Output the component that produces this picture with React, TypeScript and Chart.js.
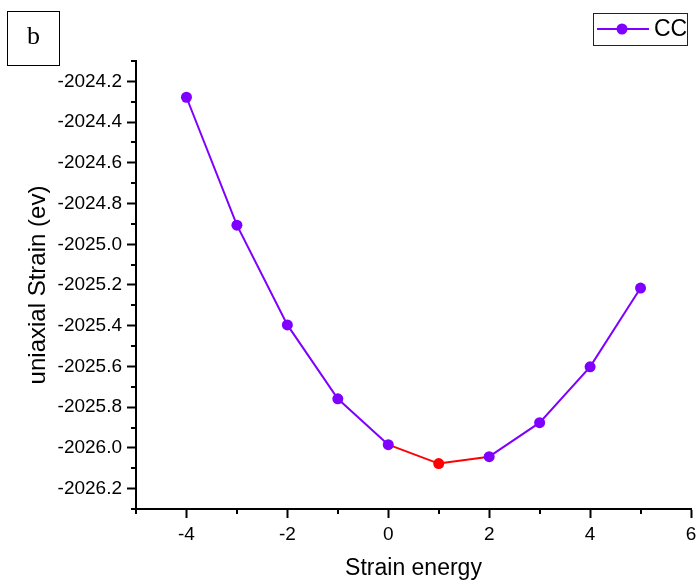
import React, { useEffect, useRef } from "react";
import { Chart, registerables } from "chart.js";

Chart.register(...registerables);

// ---- Data ----
const strainValues: number[] = [-4, -3, -2, -1, 0, 1, 2, 3, 4, 5];
const energyValues: number[] = [
  -2024.278, -2024.906, -2025.396, -2025.759, -2025.984,
  -2026.077, -2026.043, -2025.876, -2025.602, -2025.215,
];
const seriesLabel = "CC";
const highlightStart = 0; // red segment start (x)
const highlightEnd = 2; // red segment end (x)
const highlightPoint = 1; // red point (x)
const panelLabel = "b";
const xTitle = "Strain energy";
const yTitle = "uniaxial Strain (ev)";
const xMin = -5;
const xMax = 6;
const yMin = -2026.3;
const yMax = -2024.1;

const PURPLE = "#8000ff";
const RED = "#ff0000";
const FONT = "'Liberation Sans', Arial, sans-serif";

const isMajorX = (v: number) => Math.abs(Math.round(v)) % 2 === 0;
const isMajorY = (v: number) => Math.abs(Math.round(v * 10)) % 2 === 0;

const decorPlugin = {
  id: "decor",
  afterDraw(chart: any) {
    const ctx = chart.ctx;
    const area = chart.chartArea;
    const xs = chart.scales.x;
    const ys = chart.scales.y;
    ctx.save();
    // minor ticks
    ctx.strokeStyle = "#000";
    ctx.lineWidth = 2;
    xs.ticks.forEach((t: any) => {
      if (!isMajorX(t.value)) {
        const px = Math.round(xs.getPixelForValue(t.value));
        ctx.beginPath();
        ctx.moveTo(px, area.bottom);
        ctx.lineTo(px, area.bottom + 5);
        ctx.stroke();
      }
    });
    ys.ticks.forEach((t: any) => {
      if (!isMajorY(t.value)) {
        const py = Math.round(ys.getPixelForValue(t.value));
        ctx.beginPath();
        ctx.moveTo(area.left, py);
        ctx.lineTo(area.left - 5, py);
        ctx.stroke();
      }
    });

    // panel label box
    ctx.lineWidth = 1;
    ctx.strokeStyle = "#000";
    ctx.strokeRect(7.5, 11.5, 52, 54);
    ctx.fillStyle = "#000";
    ctx.font = "26px 'Liberation Serif', 'Times New Roman', serif";
    ctx.textAlign = "center";
    ctx.textBaseline = "middle";
    ctx.fillText(panelLabel, 33.5, 37);

    // legend
    ctx.strokeStyle = "#222";
    ctx.lineWidth = 1;
    ctx.strokeRect(593.5, 13.5, 94, 32);
    ctx.strokeStyle = PURPLE;
    ctx.lineWidth = 2;
    ctx.beginPath();
    ctx.moveTo(597, 29);
    ctx.lineTo(649, 29);
    ctx.stroke();
    ctx.fillStyle = PURPLE;
    ctx.beginPath();
    ctx.arc(622, 29, 5.5, 0, Math.PI * 2);
    ctx.fill();
    ctx.fillStyle = "#000";
    ctx.font = `23px ${FONT}`;
    ctx.textAlign = "left";
    ctx.textBaseline = "middle";
    ctx.fillText(seriesLabel, 654, 30);
    ctx.restore();
  },
};

export default function App() {
  const canvasRef = useRef<HTMLCanvasElement | null>(null);

  useEffect(() => {
    if (!canvasRef.current) return;
    const data = strainValues.map((x, i) => ({ x, y: energyValues[i] }));
    const chart = new Chart(canvasRef.current, {
      type: "line",
      data: {
        datasets: [
          {
            label: seriesLabel,
            data,
            borderColor: PURPLE,
            borderWidth: 2,
            pointRadius: 5.5,
            pointHoverRadius: 5.5,
            pointBorderWidth: 0,
            pointBackgroundColor: strainValues.map((x) =>
              x === highlightPoint ? RED : PURPLE
            ),
            pointBorderColor: strainValues.map((x) =>
              x === highlightPoint ? RED : PURPLE
            ),
            tension: 0,
            segment: {
              borderColor: (c: any) =>
                c.p0.parsed.x >= highlightStart && c.p1.parsed.x <= highlightEnd
                  ? RED
                  : PURPLE,
            },
          } as any,
        ],
      },
      options: {
        animation: false,
        responsive: true,
        maintainAspectRatio: false,
        layout: { padding: { top: 61, right: 0, left: 0, bottom: 0 } },
        plugins: {
          legend: { display: false },
          tooltip: { enabled: false },
        },
        scales: {
          x: {
            type: "linear",
            min: xMin,
            max: xMax,
            afterFit: (s: any) => {
              s.height = 73;
              s.paddingRight = 6;
              s.paddingLeft = 0;
            },
            ticks: {
              stepSize: 1,
              color: "#000",
              padding: 5,
              maxRotation: 0,
              autoSkip: false,
              font: { family: FONT, size: 19 },
              callback: (v: any) => (isMajorX(Number(v)) ? String(v) : ""),
            },
            grid: {
              display: true,
              drawOnChartArea: false,
              drawTicks: true,
              tickLength: 9,
              tickWidth: 2,
              tickColor: (c: any) =>
                c.tick && isMajorX(c.tick.value) ? "#000" : "rgba(0,0,0,0)",
            },
            border: { display: true, color: "#000", width: 2 },
            title: {
              display: true,
              text: xTitle,
              color: "#000",
              font: { family: FONT, size: 23 },
              padding: { top: 3, bottom: 0 },
            },
          },
          y: {
            type: "linear",
            min: yMin,
            max: yMax,
            afterFit: (s: any) => {
              s.width = 136;
            },
            ticks: {
              stepSize: 0.1,
              color: "#000",
              padding: 5,
              autoSkip: false,
              font: { family: FONT, size: 19 },
              callback: (v: any) =>
                isMajorY(Number(v)) ? Number(v).toFixed(1) : "",
            },
            grid: {
              display: true,
              drawOnChartArea: false,
              drawTicks: true,
              tickLength: 9,
              tickWidth: 2,
              tickColor: (c: any) =>
                c.tick && isMajorY(c.tick.value) ? "#000" : "rgba(0,0,0,0)",
            },
            border: { display: true, color: "#000", width: 2 },
            title: {
              display: true,
              text: yTitle,
              color: "#000",
              font: { family: FONT, size: 24 },
              padding: { top: 24, bottom: 0 },
            },
          },
        },
      },
      plugins: [decorPlugin],
    });
    return () => chart.destroy();
  }, []);

  return (
    <div
      style={{
        position: "fixed",
        left: 0,
        top: 0,
        width: 697,
        height: 582,
        background: "#fff",
      }}
    >
      <canvas ref={canvasRef} />
    </div>
  );
}
